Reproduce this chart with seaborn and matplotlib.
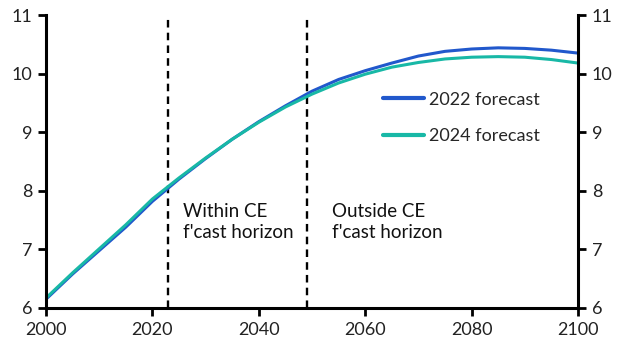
import numpy as np
import pandas as pd
import matplotlib
matplotlib.use("Agg")
import matplotlib.pyplot as plt
import seaborn as sns

# --- data ---
years = list(range(2000, 2101, 5))
forecast_2022 = [6.15, 6.58, 6.98, 7.38, 7.82, 8.20, 8.55, 8.88, 9.18, 9.45, 9.70,
                 9.90, 10.05, 10.18, 10.30, 10.38, 10.42, 10.44, 10.43, 10.40, 10.35]
forecast_2024 = [6.17, 6.60, 7.01, 7.42, 7.86, 8.22, 8.56, 8.88, 9.17, 9.43, 9.65,
                 9.84, 9.99, 10.11, 10.19, 10.25, 10.28, 10.29, 10.28, 10.24, 10.18]
series_names = ["2022 forecast", "2024 forecast"]
horizon_years = [2023, 2049]
x_ticks = [2000, 2020, 2040, 2060, 2080, 2100]
y_ticks = [6, 7, 8, 9, 10, 11]

df = pd.DataFrame({
    "year": years * 2,
    "value": forecast_2022 + forecast_2024,
    "series": [series_names[0]] * len(years) + [series_names[1]] * len(years),
})

sns.set_style("white")
plt.rcParams["font.family"] = ["Lato", "DejaVu Sans"]

fig = plt.figure(figsize=(6.3, 3.55), dpi=100)
ax = fig.add_axes([0.073, 0.1324, 0.8445, 0.8253])

palette = {series_names[0]: "#2158cc", series_names[1]: "#18b8a6"}
sns.lineplot(data=df, x="year", y="value", hue="series", palette=palette,
             linewidth=2.2, ax=ax)

for yr in horizon_years:
    ax.axvline(yr, color="black", linestyle=(0, (3.2, 2.2)), linewidth=1.7, zorder=1)

ax.set_xlim(2000, 2100)
ax.set_ylim(6, 11)
ax.set_xticks(x_ticks)
ax.set_yticks(y_ticks)
ax.set_xlabel("")
ax.set_ylabel("")

for side in ["left", "right", "bottom"]:
    ax.spines[side].set_visible(True)
    ax.spines[side].set_color("black")
    ax.spines[side].set_linewidth(2.2)
ax.spines["top"].set_visible(False)

ax.tick_params(axis="both", which="both", direction="out", length=6, width=2,
               color="black", labelsize=13, labelcolor="#222222",
               left=True, right=True, bottom=True, labelright=True, pad=4)

ax.text(2025.7, 7.47, "Within CE\nf'cast horizon", fontsize=13.5, color="#111111",
        va="center", ha="left", linespacing=1.3)
ax.text(2053.8, 7.47, "Outside CE\nf'cast horizon", fontsize=13.5, color="#111111",
        va="center", ha="left", linespacing=1.3)

leg = ax.legend(loc="upper left", bbox_to_anchor=(0.633, 0.738), frameon=False,
                fontsize=13, handlelength=2.3, handletextpad=0.25,
                labelspacing=1.12, borderaxespad=0, borderpad=0)
for line in leg.get_lines():
    line.set_linewidth(3)

fig.savefig("out.png", dpi=100)
